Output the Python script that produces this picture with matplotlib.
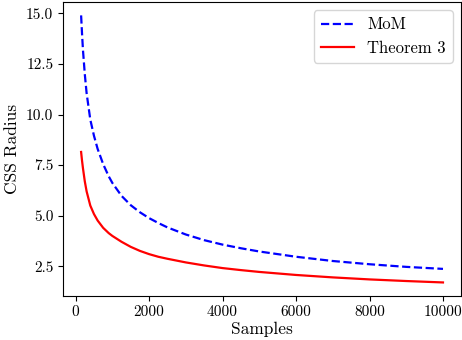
import matplotlib
matplotlib.use("Agg")
import matplotlib.pyplot as plt

# values
samples = [150, 175, 200, 250, 300, 400, 500, 600, 750, 900, 1000, 1250, 1500,
           1750, 2000, 2250, 2500, 3000, 3500, 4000, 4500, 5000, 6000, 7000,
           8000, 9000, 10000]
mom_radius = [14.9, 14.0, 13.2, 12.0, 11.05, 9.75, 8.95, 8.3, 7.55, 6.95, 6.62,
              5.98, 5.52, 5.17, 4.88, 4.64, 4.42, 4.07, 3.79, 3.57, 3.39, 3.23,
              2.97, 2.76, 2.60, 2.47, 2.37]
thm3_radius = [8.15, 7.72, 7.35, 6.7, 6.2, 5.5, 5.08, 4.76, 4.40, 4.14, 4.00,
               3.71, 3.46, 3.26, 3.10, 2.97, 2.87, 2.69, 2.54, 2.41, 2.31, 2.22,
               2.07, 1.95, 1.85, 1.77, 1.70]
x_ticks = [0, 2000, 4000, 6000, 8000, 10000]
y_ticks = [2.5, 5.0, 7.5, 10.0, 12.5, 15.0]

plt.rcParams['font.family'] = 'serif'
plt.rcParams['font.serif'] = ['cmr10', 'DejaVu Serif']
plt.rcParams['mathtext.fontset'] = 'cm'
plt.rcParams['axes.formatter.use_mathtext'] = True

fig = plt.figure(figsize=(4.62, 3.40), dpi=100)
ax = fig.add_axes([0.1364, 0.130, 0.998 - 0.1364, 0.994 - 0.130])

ax.plot(samples, mom_radius, color='blue', linestyle='--', linewidth=1.6, label='MoM')
ax.plot(samples, thm3_radius, color='red', linestyle='-', linewidth=1.6, label='Theorem 3')

ax.set_xticks(x_ticks)
ax.set_yticks(y_ticks)
ax.set_yticklabels([f"{v:.1f}" for v in y_ticks])
ax.set_xticklabels([str(v) for v in x_ticks])
ax.tick_params(labelsize=11)
ax.set_xlabel('Samples', fontsize=12.5, labelpad=2)
ax.set_ylabel('CSS Radius', fontsize=12.5, labelpad=4)
ax.legend(loc='upper right', fontsize=12)

fig.savefig('out.png', dpi=100)
